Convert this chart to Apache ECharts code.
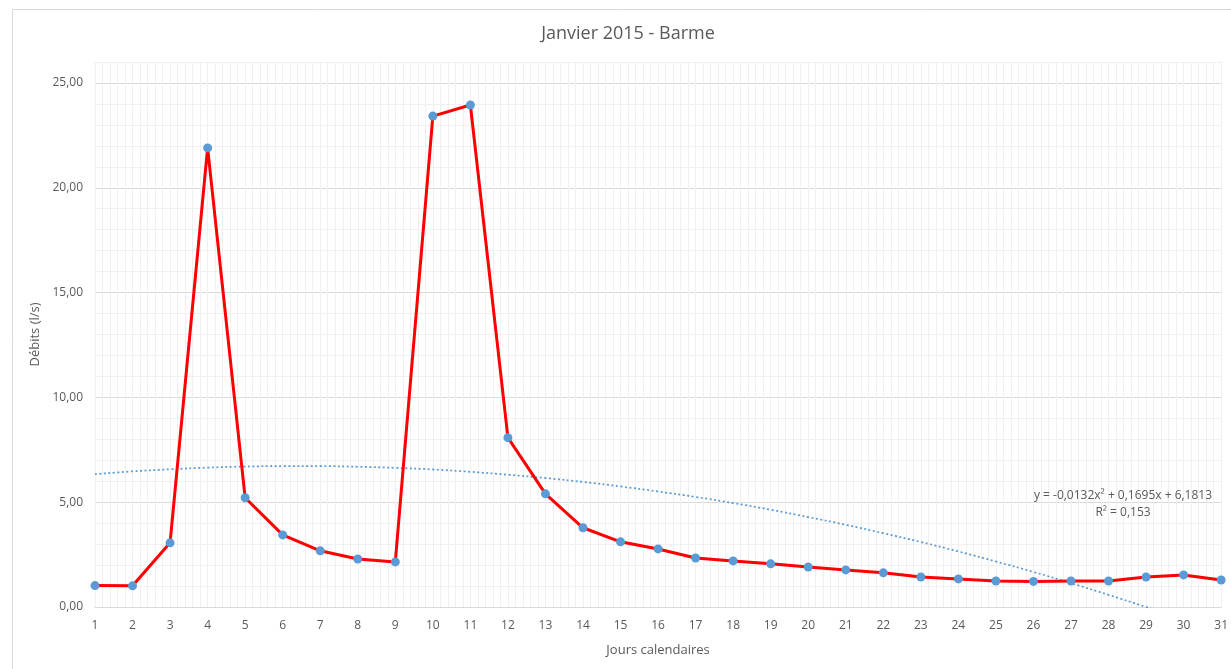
<!DOCTYPE html>
<html>
<head>
<meta charset="utf-8">
<script src="https://cdn.jsdelivr.net/npm/echarts@6/dist/echarts.min.js"></script>
<style>html,body{margin:0;padding:0;background:#fff;}#c{width:1231px;height:669px;}</style>
</head>
<body>
<div id="c"></div>
<script>
const days = [1,2,3,4,5,6,7,8,9,10,11,12,13,14,15,16,17,18,19,20,21,22,23,24,25,26,27,28,29,30,31];
const debits = [1.02,1.01,3.06,21.9,5.21,3.44,2.68,2.29,2.15,23.42,23.95,8.08,5.40,3.78,3.11,2.77,2.34,2.20,2.06,1.91,1.77,1.63,1.43,1.34,1.24,1.22,1.24,1.24,1.43,1.53,1.29];
const trend = [6.34,6.47,6.57,6.65,6.70,6.72,6.72,6.69,6.64,6.56,6.45,6.31,6.15,5.97,5.75,5.51,5.25,4.96,4.64,4.29,3.92,3.52,3.10,2.65,2.17,1.67,1.14,0.58,0.00,-0.61,-1.25];
const titleText = 'Janvier 2015 - Barme';
const xName = 'Jours calendaires';
const yName = 'Débits (l/s)';
const eqLine1 = 'y = -0,0132x² + 0,1695x + 6,1813';
const eqLine2 = 'R² = 0,153';

const font = 'Open Sans';
const txt = '#595959';
const chart = echarts.init(document.getElementById('c'));
chart.setOption({
  animation: false,
  textStyle: { fontFamily: font },
  title: { text: titleText, left: 623, textAlign: 'center', top: 20,
    textStyle: { fontFamily: font, fontSize: 18, fontWeight: 'normal', color: txt } },
  graphic: [
    { type: 'rect', left: 10, top: 7, shape: { width: 1300, height: 700 }, style: { fill: 'none', stroke: '#d9d9d9', lineWidth: 1 }, silent: true, z: -10 },
    { type: 'text', x: 1123, y: 496, style: { text: eqLine1, fill: txt, font: '12px ' + font, textAlign: 'center', textVerticalAlign: 'middle' }, z: 100 },
    { type: 'text', x: 1123, y: 513, style: { text: eqLine2, fill: txt, font: '12px ' + font, textAlign: 'center', textVerticalAlign: 'middle' }, z: 100 }
  ],
  grid: { left: 95, right: 7, top: 62, bottom: 62 },
  xAxis: {
    type: 'value', min: 1, max: 31, interval: 1,
    name: xName, nameLocation: 'middle', nameGap: 37,
    nameTextStyle: { color: txt, fontSize: 13, fontFamily: font },
    axisLine: { show: true, lineStyle: { color: '#d9d9d9' } },
    axisTick: { show: false },
    axisLabel: { color: txt, fontSize: 12, fontFamily: font, margin: 13, formatter: v => String(v) },
    splitLine: { show: true, lineStyle: { color: '#f0f0f0', width: 1 } },
    minorTick: { show: false, splitNumber: 5 },
    minorSplitLine: { show: true, lineStyle: { color: '#f0f0f0', width: 1 } }
  },
  yAxis: {
    type: 'value', min: 0, max: 26, interval: 1,
    name: yName, nameLocation: 'middle', nameGap: 49,
    nameTextStyle: { color: txt, fontSize: 13, fontFamily: font },
    axisLine: { show: false }, axisTick: { show: false },
    axisLabel: { color: txt, fontSize: 12, fontFamily: font, margin: 12,
      formatter: v => (v % 5 === 0 ? v.toFixed(2).replace('.', ',') : '') },
    splitLine: { show: true, lineStyle: { color: ['#d9d9d9','#f0f0f0','#f0f0f0','#f0f0f0','#f0f0f0'], width: 1 } }
  },
  series: [
    { type: 'line', name: 'Débits', data: days.map((d, i) => [d, debits[i]]),
      lineStyle: { color: '#ff0000', width: 3 },
      itemStyle: { color: '#5b9bd5' }, symbol: 'circle', symbolSize: 9, z: 3 },
    { type: 'line', name: 'Tendance', data: days.map((d, i) => [d, trend[i]]),
      smooth: true, showSymbol: false, clip: true,
      lineStyle: { color: '#5b9bd5', width: 1.75, type: [2, 2.5] }, z: 2 }
  ]
});
</script>
</body>
</html>
